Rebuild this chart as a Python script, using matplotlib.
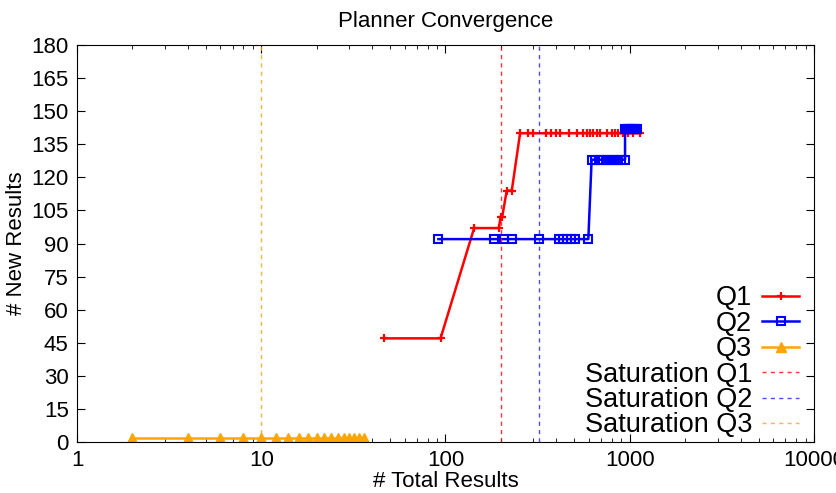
import matplotlib
matplotlib.use("Agg")
import matplotlib.pyplot as plt

plt.rcParams['font.family'] = ['Liberation Sans', 'DejaVu Sans']

# Q1: total results vs new results
q1_x = [46.5, 94, 143, 195, 199, 203, 215, 229, 254, 281, 300, 351, 374, 398, 418,
        468, 515, 560, 583, 608, 634, 662, 690, 750, 798, 832, 867, 923, 982, 1045, 1140]
q1_y = [47, 47, 97, 97, 102, 102, 114, 114, 140, 140, 140, 140, 140, 140, 140,
        140, 140, 140, 140, 140, 140, 140, 140, 140, 140, 140, 140, 140, 140, 140, 140]

q2_x = [91.5, 183, 208, 231, 321, 415, 436, 459, 482, 507, 596,
        621, 650, 680, 710, 740, 770, 800, 830, 860, 900, 943,
        943, 960, 980, 1000, 1020, 1040, 1060, 1080, 1095]
q2_y = [92, 92, 92, 92, 92, 92, 92, 92, 92, 92, 92,
        128, 128, 128, 128, 128, 128, 128, 128, 128, 128, 128,
        142, 142, 142, 142, 142, 142, 142, 142, 142]

q3_x = [2, 4, 6, 8, 10, 12, 14, 16, 18, 20, 22, 24, 26, 28, 30, 32, 34, 36]
q3_y = [2] * len(q3_x)

saturation = {"Q1": 200, "Q2": 320, "Q3": 10}

fig = plt.figure(figsize=(8.37, 4.93), dpi=100)
ax = fig.add_axes([0.092, 0.1034, 0.8805, 0.8053])

ax.plot(q1_x, q1_y, color="red", lw=1.8, marker="+", ms=6, mew=1.6, label="Q1")
ax.plot(q2_x, q2_y, color="blue", lw=1.8, marker="s", ms=6, mew=1.5,
        mfc="none", label="Q2")
ax.plot(q3_x, q3_y, color="orange", lw=1.8, marker="^", ms=7, label="Q3")

dash = (0, (3, 3))
ax.axvline(saturation["Q1"], color="red", lw=1, ls=dash, alpha=0.8, label="Saturation Q1")
ax.axvline(saturation["Q2"], color="blue", lw=1, ls=dash, alpha=0.7, label="Saturation Q2")
ax.axvline(saturation["Q3"], color="orange", lw=1, ls=dash, alpha=0.8, label="Saturation Q3")

ax.set_xscale("log")
ax.set_xlim(1, 10000)
ax.set_ylim(0, 180)
ax.set_yticks(range(0, 181, 15))
ax.set_xticks([1, 10, 100, 1000, 10000])
ax.set_xticklabels(["1", "10", "100", "1000", "10000"])
ax.tick_params(which="both", direction="in", top=True, right=True, labelsize=16)
ax.tick_params(which="major", length=6)
ax.tick_params(which="minor", length=3)
ax.tick_params(axis="x", pad=6)
ax.tick_params(axis="y", pad=6)

ax.set_title("Planner Convergence", fontsize=16, pad=13)
ax.set_xlabel("# Total Results", fontsize=16, labelpad=0)
ax.set_ylabel("# New Results", fontsize=16, labelpad=3)

ax.legend(loc="lower right", frameon=False, markerfirst=False, fontsize=19.5,
          labelspacing=-0.02, handlelength=1.37, handletextpad=0.37,
          borderpad=0, borderaxespad=0, bbox_to_anchor=(0.98, 0.009))

fig.savefig("out.png", dpi=100)
